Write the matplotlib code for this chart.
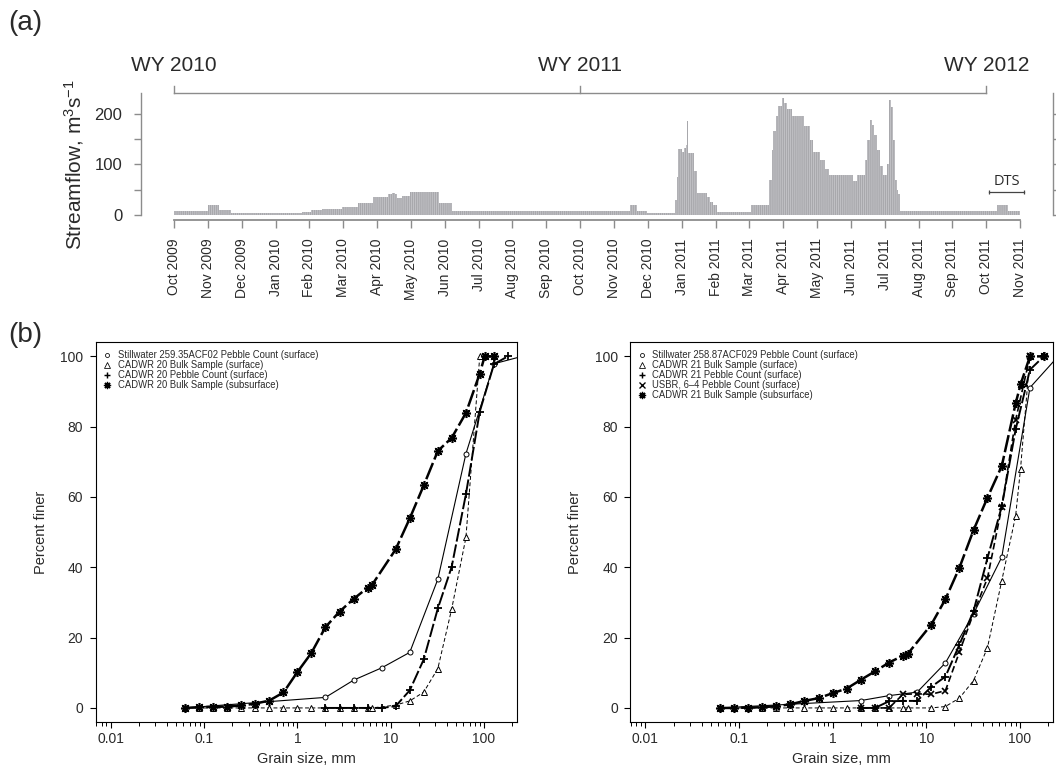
import matplotlib
matplotlib.use("Agg")
import matplotlib.pyplot as plt
from matplotlib.ticker import FixedLocator, NullFormatter, LogLocator

plt.rcParams["font.family"] = ["Liberation Sans", "DejaVu Sans"]
plt.rcParams["mathtext.fontset"] = "custom"
plt.rcParams["mathtext.rm"] = "Liberation Sans"
plt.rcParams["mathtext.it"] = "Liberation Sans:italic"
plt.rcParams["hatch.linewidth"] = 0.6

W, H = 1056, 769

# ---- panel (a): streamflow, x in months since Oct 2009 ----
month_labels = [
    "Oct 2009", "Nov 2009", "Dec 2009", "Jan 2010", "Feb 2010", "Mar 2010",
    "Apr 2010", "May 2010", "Jun 2010", "Jul 2010", "Aug 2010", "Sep 2010",
    "Oct 2010", "Nov 2010", "Dec 2010", "Jan 2011", "Feb 2011", "Mar 2011",
    "Apr 2011", "May 2011", "Jun 2011", "Jul 2011", "Aug 2011", "Sep 2011",
    "Oct 2011", "Nov 2011",
]
flow_edges = [
    0.00, 1.00, 1.34, 1.68, 3.77, 4.04, 4.36, 4.96, 5.45, 5.89, 6.33, 6.45,
    6.52, 6.58, 6.73, 6.97, 7.84, 8.20, 13.47, 13.69, 13.99, 14.80, 14.85,
    14.90, 15.00, 15.07, 15.13, 15.17, 15.20, 15.35, 15.45, 15.74, 15.84,
    15.94, 16.05, 16.63, 17.04, 17.59, 17.66, 17.71, 17.80, 17.86, 17.95,
    18.01, 18.10, 18.25, 18.60, 18.79, 18.89, 19.09, 19.24, 19.34, 20.07,
    20.19, 20.42, 20.49, 20.55, 20.62, 20.67, 20.77, 20.87, 20.94, 21.06,
    21.14, 21.19, 21.24, 21.31, 21.36, 21.40, 21.45, 24.31, 24.65, 25.00,
]
flow_values = [
    8, 20, 9, 3, 5, 9.5, 11.5, 16, 22.5, 36, 41, 44,
    41, 32.5, 38, 46, 23, 8, 19, 8, 3, 30,
    75, 130, 124, 132, 138, 187, 122, 86, 44, 36,
    26, 20, 5, 5.5, 20, 69, 128, 167, 195, 215,
    231, 222, 209, 195, 176, 148, 125, 108, 90, 79,
    66, 78, 108, 148, 188, 178, 158, 128, 96, 79,
    100, 228, 214, 148, 69, 49, 42, 8, 19, 8,
]
wy_labels = ["WY 2010", "WY 2011", "WY 2012"]
wy_months = [0, 12, 24]
dts_months = [24.09, 25.10]
dts_level = 45.6

# ---- panel (b): grain size distributions ----
bulk_sizes = [0.0625, 0.088, 0.125, 0.177, 0.25, 0.35, 0.5, 0.71, 1, 1.41, 2,
              2.83, 4, 5.66, 6.35, 11.3, 16, 22.6, 32, 45, 64, 90, 101.6, 128]
pebble_sizes = [2, 2.83, 4, 5.66, 8, 11.3, 16, 22.6, 32, 45, 64, 90, 128, 180]
still_sizes = [0.0625, 2, 4, 8, 16, 32, 64, 128, 256]

l_still = [0, 3.0, 7.9, 11.4, 15.8, 36.6, 72.3, 97.9, 100]
l_bulk_surf = [0, 0, 0, 0, 0, 0, 0, 0, 0, 0, 0, 0, 0, 0, 0,
               0.8, 2.0, 4.5, 11.2, 28.1, 48.5, 100, 100, 100]
l_pebble = [0, 0, 0, 0, 0, 0.5, 5.0, 13.8, 28.3, 40.1, 60.8, 84.3, 97.8, 100]
l_bulk_sub = [0, 0.2, 0.3, 0.4, 0.7, 1.2, 2.1, 4.4, 10.2, 15.6, 23, 27.4, 31,
              34.2, 35.1, 45.1, 53.9, 63.3, 73.1, 76.8, 83.9, 95.1, 100, 100]

r_still = [0, 2.1, 3.5, 4.5, 12.8, 26.8, 42.9, 91.1, 100]
r_bulk_surf = [0, 0, 0, 0, 0, 0, 0, 0, 0, 0, 0, 0, 0, 0, 0,
               0, 0.4, 2.8, 7.8, 17.1, 36.2, 54.6, 68.1, 100]
r_pebble = [0, 0, 1.9, 2.0, 2.0, 6.0, 8.9, 18.0, 27.6, 42.6, 57.3, 79.2, 96.2, 100]
usbr_sizes = [2, 2.83, 4, 5.66, 8, 11.3, 16, 22.6, 32, 45, 64, 90, 128]
r_usbr = [0, 0, 0, 3.9, 4.0, 3.9, 4.9, 15.9, 27.0, 36.9, 57.1, 81.9, 100]
r_sub_sizes = bulk_sizes + [180]
r_bulk_sub = [0, 0, 0.1, 0.2, 0.5, 1.0, 2.0, 2.8, 4.2, 5.5, 8.0, 10.4, 12.9,
              14.9, 15.4, 23.7, 30.9, 39.9, 50.6, 59.8, 68.8, 86.6, 92.0, 100, 100]

left_labels = [
    "Stillwater 259.35ACF02 Pebble Count (surface)",
    "CADWR 20 Bulk Sample (surface)",
    "CADWR 20 Pebble Count (surface)",
    "CADWR 20 Bulk Sample (subsurface)",
]
right_labels = [
    "Stillwater 258.87ACF029 Pebble Count (surface)",
    "CADWR 21 Bulk Sample (surface)",
    "CADWR 21 Pebble Count (surface)",
    "USBR, 6\u20134 Pebble Count (surface)",
    "CADWR 21 Bulk Sample (subsurface)",
]

STAR = (8, 2, 0)
STYLES = {
    "still": dict(marker="o", ms=3.6, mfc="white", mec="black", mew=0.7,
                  color="black", lw=0.8, ls="-"),
    "tri": dict(marker="^", ms=4.6, mfc="white", mec="black", mew=0.7,
                color="black", lw=0.7, ls=(0, (4, 2.5))),
    "plus": dict(marker="+", ms=6.0, mec="black", mew=1.3,
                 color="black", lw=1.4, ls=(0, (7, 1.5))),
    "usbr": dict(marker="x", ms=4.6, mec="black", mew=1.2,
                 color="black", lw=1.2, ls=(0, (4, 2))),
    "star": dict(marker=STAR, ms=6.5, mec="black", mew=1.15,
                 color="black", lw=1.8, ls=(0, (7, 1.5))),
}

GREY = "#8c8c8c"
TXT = "#2a2a2a"

fig = plt.figure(figsize=(W / 100, H / 100), dpi=100)


def px_axes(left, top, right, bottom):
    return fig.add_axes([left / W, 1 - bottom / H, (right - left) / W, (bottom - top) / H])


# ---------- (a) ----------
ax = px_axes(140.7, 93.3, 1053.3, 220)
ax.stairs(flow_values, flow_edges, fill=True, baseline=0,
          facecolor="#a8a8ac", edgecolor="#c6c6ca", linewidth=0, hatch="||||||||")
ax.set_xlim(-0.984, 25.98)
ax.set_ylim(-10.5, 241)

ax.spines["top"].set_visible(False)
for side in ["left", "right"]:
    ax.spines[side].set_bounds(0, 241)
    ax.spines[side].set_color(GREY)
    ax.spines[side].set_linewidth(1.0)
ax.spines["bottom"].set_bounds(0, 25)
ax.spines["bottom"].set_color(GREY)
ax.spines["bottom"].set_linewidth(1.3)

ax.set_xticks(range(len(month_labels)))
ax.set_xticklabels(month_labels, rotation=90, fontsize=10, color=TXT)
ax.tick_params(axis="x", direction="out", length=5.8, width=1.0, color=GREY, pad=7.5)
ax.yaxis.set_major_locator(FixedLocator([0, 100, 200]))
ax.yaxis.set_minor_locator(FixedLocator([50, 150]))
ax.yaxis.set_minor_formatter(NullFormatter())
ax.tick_params(axis="y", which="both", direction="out", length=5.3, width=1.0,
               color=GREY, labelsize=12, labelcolor=TXT, pad=8, right=True)
ax.tick_params(axis="y", which="both", labelright=False)

ax.plot([wy_months[0], wy_months[-1]], [241, 241], color=GREY, lw=1.0, clip_on=False)
for m, lab in zip(wy_months, wy_labels):
    ax.plot([m, m], [241, 255], color=GREY, lw=1.0, clip_on=False)
    ax.text(m, 296, lab, ha="center", va="center", fontsize=15, color=TXT, clip_on=False)

ax.plot(dts_months, [dts_level, dts_level], color="#444444", lw=0.9,
        marker="|", ms=3.5, mew=0.9)
ax.text(sum(dts_months) / 2, 66, "DTS", ha="center", va="center", fontsize=10.5,
        color=TXT, family=["Open Sans", "DejaVu Sans"])

fig.text(74 / W, 1 - 165 / H, r"Streamflow, m$^{3}$s$^{-1}$", rotation=90,
         ha="center", va="center", fontsize=15, color=TXT)
fig.text(8 / W, 1 - 23 / H, "(a)", ha="left", va="center", fontsize=20, color=TXT)
fig.text(8 / W, 1 - 335 / H, "(b)", ha="left", va="center", fontsize=20, color=TXT)


# ---------- (b) ----------
def gsd_axes(axb, series, labels, keys):
    for (xs, ys), key in zip(series, keys):
        axb.plot(xs, ys, **STYLES[key])
    axb.set_xscale("log")
    axb.set_xlim(0.0069, 224)
    axb.set_ylim(-4, 104)
    axb.xaxis.set_major_locator(FixedLocator([0.01, 0.1, 1, 10, 100]))
    axb.set_xticklabels(["0.01", "0.1", "1", "10", "100"])
    axb.xaxis.set_minor_locator(LogLocator(base=10, subs=range(2, 10), numticks=20))
    axb.xaxis.set_minor_formatter(NullFormatter())
    axb.set_yticks([0, 20, 40, 60, 80, 100])
    axb.tick_params(axis="both", which="major", direction="out", length=4.5,
                    width=0.8, labelsize=10, pad=3, labelcolor=TXT)
    axb.tick_params(axis="y", pad=4.5)
    axb.tick_params(axis="x", which="minor", direction="out", length=2.8, width=0.7)
    for s in axb.spines.values():
        s.set_linewidth(0.8)
    axb.set_xlabel("Grain size, mm", fontsize=10.5, labelpad=4, color=TXT)
    axb.set_ylabel("Percent finer", fontsize=10.5, labelpad=9, color=TXT)
    for i, (lab, key) in enumerate(zip(labels, keys)):
        y = 0.967 - i * 0.0262
        st = STYLES[key]
        axb.plot([0.027], [y], transform=axb.transAxes, marker=st["marker"],
                 ms=st["ms"] * 0.8, mfc=st.get("mfc", "black"), mec="black",
                 mew=st["mew"] * 0.8, ls="none", clip_on=False)
        axb.text(0.052, y, lab, transform=axb.transAxes, fontsize=6.85,
                 ha="left", va="center", color=TXT)


ax_l = px_axes(95.7, 342.3, 516.7, 722)
gsd_axes(ax_l,
         [(still_sizes, l_still), (bulk_sizes, l_bulk_surf),
          (pebble_sizes, l_pebble), (bulk_sizes, l_bulk_sub)],
         left_labels, ["still", "tri", "plus", "star"])
ax_r = px_axes(630.3, 342.3, 1052.7, 722)
gsd_axes(ax_r,
         [(still_sizes, r_still), (bulk_sizes, r_bulk_surf), (pebble_sizes, r_pebble),
          (usbr_sizes, r_usbr), (r_sub_sizes, r_bulk_sub)],
         right_labels, ["still", "tri", "plus", "usbr", "star"])

fig.savefig("out.png", dpi=100)
